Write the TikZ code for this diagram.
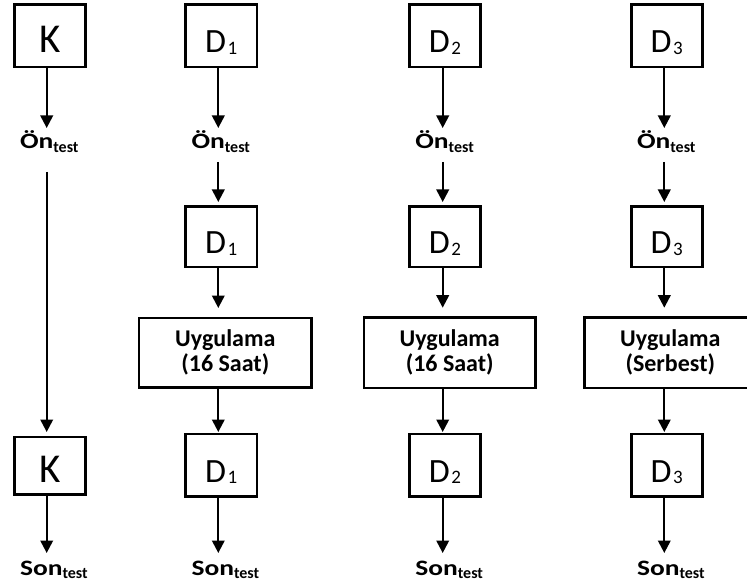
\documentclass[tikz,border=0pt]{standalone}
\usepackage{fontspec}
\setmainfont{Carlito}
\usepackage{graphicx}
\usetikzlibrary{arrows.meta}
\newcommand{\Dsub}[1]{D\kern1.5pt\raisebox{-1.5pt}{\fontsize{19}{19}\selectfont #1}}
\newcommand{\lbl}[1]{{\bfseries\scalebox{1.25}[1]{\fontsize{22}{22}\selectfont #1}\raisebox{-3.5pt}{\fontsize{16}{16}\selectfont test}}}
\begin{document}
\begin{tikzpicture}[x=1pt,y=-1pt,
  box/.style={draw, line width=2.6pt, inner sep=0pt, outer sep=0pt, minimum width=71pt,
    text height=34pt, text depth=0pt, font=\fontsize{34}{40}\selectfont},
  ubox/.style={draw, line width=2.6pt, inner sep=0pt, outer sep=0pt, minimum width=172pt,
    minimum height=70pt, align=center, font=\bfseries\fontsize{24}{25}\selectfont},
  lab/.style={anchor=base west, inner sep=0pt, outer sep=0pt, text height=14pt, text depth=4pt},
  arr/.style={line width=2.2pt, -{Triangle[width=12.5pt,length=12.5pt]}},
]
\clip (0,0) rectangle (747,588);
\fill[white] (0,0) rectangle (747,588);
% column x for arrows
\coordinate (c1) at (46.7,0);
\coordinate (c2) at (218.3,0);
\coordinate (c3) at (442.7,0);
\coordinate (c4) at (664.3,0);

% column 1
\node[box, minimum height=62.3pt] (K1) at (49.7,35.85) {\fontsize{41}{45}\selectfont K\hspace{16pt}};
\node[lab] (O1) at (20,149) {\lbl{Ön}};
\node[box, minimum height=57.7pt] (K2) at (49.7,465.85) {\fontsize{41}{45}\selectfont K\hspace{16pt}};
\node[lab] (S1) at (20,575) {\lbl{Son}};

% column 2
\node[box, minimum height=62.3pt, minimum width=71.7pt] (A1) at (221.2,35.85) {\Dsub{1}};
\node[lab] (O2) at (191.5,149) {\lbl{Ön}};
\node[box, minimum height=60.7pt, minimum width=71.7pt] (A2) at (221.2,236.65) {\Dsub{1}};
\node[ubox, minimum width=172.7pt, minimum height=69.3pt] (U1) at (225.3,352.65) {Uygulama\\(16 Saat)};
\node[box, minimum height=62.3pt, minimum width=71.7pt] (A3) at (221.2,465.15) {\Dsub{1}};
\node[lab] (S2) at (191.5,575) {\lbl{Son}};

% column 3
\node[box, minimum height=62.3pt] (B1) at (445,35.85) {\Dsub{2}};
\node[lab] (O3) at (415.3,149) {\lbl{Ön}};
\node[box, minimum height=60.7pt] (B2) at (445,236.65) {\Dsub{2}};
\node[ubox, minimum width=171.3pt, minimum height=70.3pt] (U2) at (449.7,352.85) {Uygulama\\(16 Saat)};
\node[box, minimum height=62.3pt] (B3) at (445,465.15) {\Dsub{2}};
\node[lab] (S3) at (415.3,575) {\lbl{Son}};

% column 4
\node[box, minimum height=62.3pt] (C1) at (666.7,35.85) {\Dsub{3}};
\node[lab] (O4) at (637,149) {\lbl{Ön}};
\node[box, minimum height=60.7pt] (C2) at (666.7,236.65) {\Dsub{3}};
\node[ubox, minimum width=171.3pt, minimum height=70.3pt] (U3) at (670.3,352.85) {Uygulama\\(Serbest)};
\node[box, minimum height=62.3pt] (C3) at (666.7,465.15) {\Dsub{3}};
\node[lab] (S4) at (637,575) {\lbl{Son}};

% arrows column 1
\draw[arr, shorten >=7pt] (K1.south -| c1) -- (O1.north -| c1);
\draw[arr, shorten <=19pt, shorten >=5pt] (O1.south -| c1) -- (K2.north -| c1);
\draw[arr, shorten >=8pt] (K2.south -| c1) -- (S1.north -| c1);

% arrows column 2
\draw[arr, shorten >=7pt] (A1.south -| c2) -- (O2.north -| c2);
\draw[arr, shorten <=9pt, shorten >=4.3pt] (O2.south -| c2) -- (A2.north -| c2);
\draw[arr, shorten >=10pt] (A2.south -| c2) -- (U1.north -| c2);
\draw[arr, shorten >=2pt] (U1.south -| c2) -- (A3.north -| c2);
\draw[arr, shorten >=8pt] (A3.south -| c2) -- (S2.north -| c2);

% arrows column 3
\draw[arr, shorten >=7pt] (B1.south -| c3) -- (O3.north -| c3);
\draw[arr, shorten <=9pt, shorten >=4.3pt] (O3.south -| c3) -- (B2.north -| c3);
\draw[arr, shorten >=10pt] (B2.south -| c3) -- (U2.north -| c3);
\draw[arr, shorten >=2pt] (U2.south -| c3) -- (B3.north -| c3);
\draw[arr, shorten >=8pt] (B3.south -| c3) -- (S3.north -| c3);

% arrows column 4
\draw[arr, shorten >=7pt] (C1.south -| c4) -- (O4.north -| c4);
\draw[arr, shorten <=9pt, shorten >=4.3pt] (O4.south -| c4) -- (C2.north -| c4);
\draw[arr, shorten >=10pt] (C2.south -| c4) -- (U3.north -| c4);
\draw[arr, shorten >=2pt] (U3.south -| c4) -- (C3.north -| c4);
\draw[arr, shorten >=8pt] (C3.south -| c4) -- (S4.north -| c4);
\end{tikzpicture}
\end{document}
